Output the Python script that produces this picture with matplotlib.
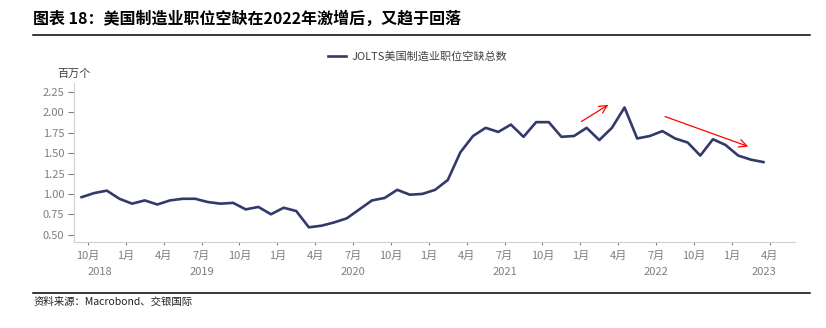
import matplotlib.pyplot as plt
import numpy as np

plt.rcParams['font.family'] = ['Noto Sans CJK SC', 'DejaVu Sans']

# JOLTS manufacturing job openings, millions, monthly from Sep 2018 to Mar 2023
openings = [0.96, 1.01, 1.04, 0.94, 0.88, 0.92, 0.87, 0.92, 0.94, 0.94,
            0.90, 0.88, 0.89, 0.81, 0.84, 0.75, 0.83, 0.79, 0.59, 0.61,
            0.65, 0.70, 0.81, 0.92, 0.95, 1.05, 0.99, 1.00, 1.05, 1.17,
            1.51, 1.71, 1.81, 1.76, 1.85, 1.70, 1.88, 1.88, 1.70, 1.71,
            1.81, 1.66, 1.81, 2.06, 1.68, 1.71, 1.77, 1.68, 1.63, 1.47,
            1.67, 1.60, 1.47, 1.42, 1.39]

# x-axis labels: quarter months (month index counted from Sep 2018)
tick_months = [1, 4, 7, 10, 13, 16, 19, 22, 25, 28, 31, 34, 37, 40, 43, 46, 49, 52, 55]
tick_labels = ['10月', '1月', '4月', '7月'] * 4 + ['10月', '1月', '4月']
jan_months = [4, 16, 28, 40, 52]
years = ['2018', '2019', '2020', '2021', '2022', '2023']

yticks = [0.50, 0.75, 1.00, 1.25, 1.50, 1.75, 2.00, 2.25]

# red arrows (start idx, start val, end idx, end val)
arrows = [(39.4, 1.87, 41.9, 2.11), (46.0, 1.96, 53.0, 1.57)]

xmin, xmax = -0.6, 56.5

fig = plt.figure(figsize=(8.26, 3.28), dpi=100)
ax = fig.add_axes([74/826, 1-242/328, (795-74)/826, (242-83)/328])

x = np.arange(len(openings))
ax.plot(x, openings, color='#333a6b', lw=1.9, label='JOLTS美国制造业职位空缺总数')

for x0, y0, x1, y1 in arrows:
    ax.annotate('', xy=(x1, y1), xytext=(x0, y0),
                arrowprops=dict(arrowstyle='->', color='red', lw=0.9, mutation_scale=14))

ax.set_xlim(xmin, xmax)
ax.set_ylim(0.41, 2.36)

for s in ['top', 'right']:
    ax.spines[s].set_visible(False)
for s in ['left', 'bottom']:
    ax.spines[s].set_color('#d0d0d0')
    ax.spines[s].set_linewidth(0.8)

ax.set_yticks(yticks)
ax.set_yticklabels(['%.2f' % v for v in yticks])
ax.tick_params(axis='y', length=4, color='#808080', labelsize=8, labelcolor='#7f7f7f', pad=3)

ax.set_xticks([m - 0.5 for m in tick_months])
ax.set_xticklabels(tick_labels)
ax.set_xticks([m - 0.5 for m in jan_months], minor=True)
ax.tick_params(axis='x', which='major', length=2.5, color='#808080', labelsize=8,
               labelcolor='#7f7f7f', pad=4)
ax.tick_params(axis='x', which='minor', length=5, color='#808080')

# year labels centred on the visible part of each year
bounds = [xmin] + [m - 0.5 for m in jan_months] + [xmax]
for i, yr in enumerate(years):
    xc = (bounds[i] + bounds[i + 1]) / 2
    ax.text(xc, -0.189, yr, transform=ax.get_xaxis_transform(), ha='center', va='center',
            fontsize=8, color='#7f7f7f')

ax.text(57/826, 1-74/328, '百万个', transform=fig.transFigure, fontsize=8,
        color='#404040', ha='left', va='center')

fig.legend(loc='center', bbox_to_anchor=(0.506, 1-57/328), frameon=False, fontsize=8,
           handlelength=1.6, handletextpad=0.5, labelcolor='#404040')

fig.text(33/826, 1-19/328, '图表 18：美国制造业职位空缺在2022年激增后，又趋于回落',
         fontsize=11.5, fontweight='bold', ha='left', va='center')
fig.add_artist(plt.Line2D([33/826, 810/826], [1-35/328, 1-35/328], color='black', lw=1.1))
fig.add_artist(plt.Line2D([33/826, 810/826], [1-293/328, 1-293/328], color='black', lw=1.1))
fig.text(34/826, 1-302/328, '资料来源：Macrobond、交银国际', fontsize=7.5, style='italic',
         ha='left', va='center', color='#202020')

fig.savefig('out.png', dpi=100)
